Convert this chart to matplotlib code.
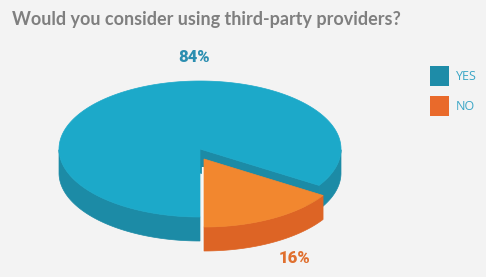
import numpy as np
import matplotlib
matplotlib.use("Agg")
import matplotlib.pyplot as plt
from matplotlib.patches import Polygon, Rectangle

# ---- data ----
labels = ["YES", "NO"]
values = [84, 16]
pct_labels = ["84%", "16%"]
title = "Would you consider using third-party providers?"

# ---- style ----
top_colors = ["#1CA9C9", "#F2872F"]
side_colors = ["#1C8BA6", "#DD6425"]
legend_colors = ["#1E8CA8", "#E96A2B"]
pct_colors = ["#2B8EB0", "#E0702F"]
bg = "#F3F3F3"

W, H = 486, 277
fig = plt.figure(figsize=(W / 100, H / 100), dpi=100, facecolor=bg)
ax = fig.add_axes([0, 0, 1, 1])
ax.set_xlim(0, W)
ax.set_ylim(H, 0)
ax.axis("off")
ax.set_facecolor(bg)

# pie geometry (pixels)
cx, cy = 200, 149
a, b = 141, 68
depth = 24
explode = [(0, 0), (4, 10)]
start = 270.0

def pt(c, t, dy=0):
    r = np.deg2rad(t)
    return (c[0] + a * np.cos(r), c[1] - b * np.sin(r) + dy)

total = float(sum(values))
spans = {}
s = start
for lab, v in zip(labels[::-1], values[::-1]):
    sweep = v / total * 360.0
    spans[lab] = (s, s + sweep)
    s += sweep

def draw_slice(i, zbase):
    lab = labels[i]
    t1, t2 = spans[lab]
    c = (cx + explode[i][0], cy + explode[i][1])
    ts = np.linspace(t1, t2, 400)
    front = np.sin(np.deg2rad(ts)) <= 0.0
    segs = []
    cur = []
    for t, f in zip(ts, front):
        if f:
            cur.append(t)
        elif cur:
            segs.append(cur); cur = []
    if cur:
        segs.append(cur)
    for seg in segs:
        top = [pt(c, t) for t in seg]
        bot = [pt(c, t, depth) for t in seg[::-1]]
        ax.add_patch(Polygon(top + bot, closed=True, fc=side_colors[i], ec=side_colors[i], lw=0.5, zorder=zbase))
    for t, sign in ((t1, -1), (t2, 1)):
        normal = t + sign * 90
        if np.sin(np.deg2rad(normal)) < -0.05:
            p = pt(c, t)
            quad = [c, p, (p[0], p[1] + depth), (c[0], c[1] + depth)]
            ax.add_patch(Polygon(quad, closed=True, fc=side_colors[i], ec=side_colors[i], lw=0.5, zorder=zbase + 0.5))
    topface = [c] + [pt(c, t) for t in ts]
    ax.add_patch(Polygon(topface, closed=True, fc=top_colors[i], ec=top_colors[i], lw=0.5, zorder=zbase + 1))
    return c, t1

draw_slice(0, 1)
c_no, t_no = draw_slice(1, 3)
p = pt(c_no, t_no, depth)
ax.plot([c_no[0] - 1.5, p[0] - 1.5], [c_no[1] + 8, p[1]], color="#F4FAFC", lw=1.6, zorder=2.9,
        solid_capstyle="butt")

# percentage labels
pct_pos = [(194, 57), (295, 258)]
for i in range(2):
    ax.text(pct_pos[i][0], pct_pos[i][1], pct_labels[i], color=pct_colors[i],
            fontsize=12, fontweight="black",
            family="Roboto", ha="center", va="center", zorder=10)

# title
ax.text(12, 19, title, color="#7F7F7F", fontsize=13, fontweight="bold",
        family="Lato", ha="left", va="center")

# legend
leg_y = [76, 106]
for i in range(2):
    ax.add_patch(Rectangle((430, leg_y[i] - 10), 19, 20, fc=legend_colors[i], ec="none"))
    ax.text(456, leg_y[i], labels[i], color="#3BA6C6", fontsize=9, family="Open Sans",
            ha="left", va="center")

fig.savefig("out.png", dpi=100, facecolor=bg)
